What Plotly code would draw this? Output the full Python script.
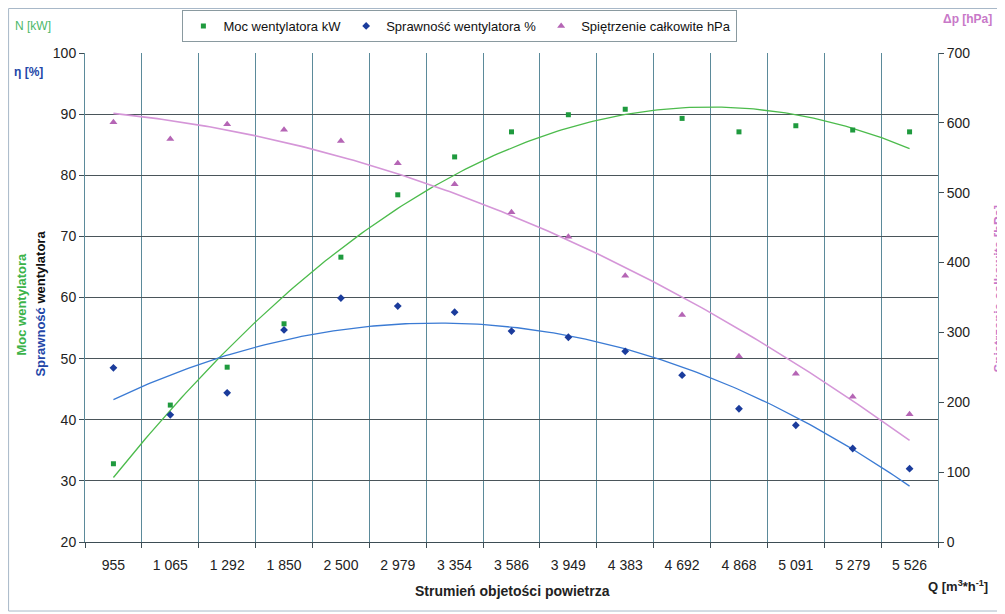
import numpy as np
import plotly.graph_objects as go

categories = ["955", "1 065", "1 292", "1 850", "2 500", "2 979", "3 354", "3 586",
              "3 949", "4 383", "4 692", "4 868", "5 091", "5 279", "5 526"]
moc_kw = [32.8, 42.4, 48.6, 55.7, 66.6, 76.8, 83.0, 87.1, 89.9, 90.8, 89.3, 87.1, 88.1, 87.4, 87.1]
sprawnosc = [48.5, 40.8, 44.4, 54.7, 59.9, 58.6, 57.6, 54.5, 53.5, 51.2, 47.3, 41.8, 39.1, 35.3, 32.0]
spietrzenie = [601, 577, 598, 590, 574, 542, 512, 472, 437, 381, 325, 266, 241, 208, 183]

idx = np.arange(1, len(categories) + 1)
xf = np.linspace(1, len(categories), 200)

def trend(vals, deg=2):
    c = np.polyfit(idx, vals, deg)
    return np.polyval(c, xf)

FONT = "Liberation Sans, Arial, sans-serif"
G_M, G_L = "#1f9a3e", "#4cbb4c"
B_M, B_L = "#1b3c9c", "#3b7bd4"
P_M, P_L = "#b565b5", "#d596d8"

fig = go.Figure()
fig.add_trace(go.Scatter(x=xf, y=trend(moc_kw), mode="lines", line=dict(color=G_L, width=1.3),
                         showlegend=False, hoverinfo="skip"))
fig.add_trace(go.Scatter(x=xf, y=trend(sprawnosc), mode="lines", line=dict(color=B_L, width=1.3),
                         showlegend=False, hoverinfo="skip"))
fig.add_trace(go.Scatter(x=xf, y=trend(spietrzenie), mode="lines", line=dict(color=P_L, width=1.6),
                         showlegend=False, hoverinfo="skip", yaxis="y2"))

fig.add_trace(go.Scatter(x=idx, y=moc_kw, mode="markers", name="Moc wentylatora kW",
                         marker=dict(symbol="square", size=5, color=G_M)))
fig.add_trace(go.Scatter(x=idx, y=sprawnosc, mode="markers", name="Sprawność wentylatora %",
                         marker=dict(symbol="diamond", size=6, color=B_M)))
fig.add_trace(go.Scatter(x=idx, y=spietrzenie, mode="markers", name="Spiętrzenie całkowite hPa",
                         marker=dict(symbol="triangle-up", size=7, color=P_M), yaxis="y2"))

# the page places the figure 8px from the top-left corner of the window
OFF = 8
W, H = 1005, 614
L = 84.5 - OFF
T = 53 - OFF
R = W - (938.5 - OFF)
B = H - (542 - OFF)
pw, ph = W - L - R, H - T - B

def px(x):
    return (x - OFF - L) / pw

def py(y):
    return (H - B - (y - OFF)) / ph

fig.update_layout(
    width=W, height=H,
    margin=dict(l=L, r=R, t=T, b=B, autoexpand=False),
    paper_bgcolor="white", plot_bgcolor="white",
    font=dict(family=FONT, size=14, color="#222222"),
    xaxis=dict(
        range=[0.5, len(categories) + 0.5],
        tickmode="array", tickvals=list(idx), ticktext=categories,
        ticks="", showgrid=False, zeroline=False,
        showline=True, linecolor="#3d4d55", linewidth=1,
        ticklabelstandoff=10,
        minor=dict(tickmode="array", tickvals=list(np.arange(0.5, len(categories) + 1, 1.0)),
                   ticks="outside", ticklen=5, tickcolor="#3d4d55",
                   showgrid=True, gridcolor="#5b8a9a", gridwidth=1),
    ),
    yaxis=dict(
        range=[20, 100], dtick=10, ticks="outside", ticklen=5, tickcolor="#3d4d55",
        showgrid=True, gridcolor="#4a555a", gridwidth=1, zeroline=False,
        showline=True, linecolor="#5b8a9a", linewidth=1,
    ),
    yaxis2=dict(
        range=[0, 700], dtick=100, overlaying="y", side="right",
        ticks="outside", ticklen=5, tickcolor="#3d4d55",
        showgrid=False, zeroline=False,
        showline=True, linecolor="#5b8a9a", linewidth=1,
    ),
    legend=dict(
        orientation="h", x=px(182), y=py(10), xanchor="left", yanchor="top",
        bordercolor="#8a9aa0", borderwidth=1, bgcolor="white",
        font=dict(size=13, color="#111111"), itemwidth=30,
    ),
    showlegend=True,
)

ann = [
    dict(text="N [kW]", x=px(32), y=py(26), font=dict(size=12, color="#4cb86a")),
    dict(text="<b>η [%]</b>", x=px(28), y=py(72), font=dict(size=12, color="#2346a8")),
    dict(text="<b>Δp [hPa]</b>", x=px(968), y=py(19), font=dict(size=12, color="#c878c8")),
    dict(text="<b>Moc wentylatora</b>", x=px(20), y=py(304), textangle=-90,
         font=dict(size=13, color="#3cb34a")),
    dict(text="<b><span style='color:#2346a8'>Sprawność</span> wentylatora</b>", x=px(39), y=py(304),
         textangle=-90, font=dict(size=13, color="#111111")),
    dict(text="<b>Spiętrzenie całkowite [hPa]</b>", x=px(999), y=py(288), textangle=-90,
         font=dict(size=13, color="#c878c8")),
    dict(text="<b>Strumień objetości powietrza</b>", x=px(513), y=py(591),
         font=dict(size=14, color="#222222")),
    dict(text="<b>Q [m<sup>3</sup>*h<sup>-1</sup>]</b>", x=px(959), y=py(586),
         font=dict(size=13, color="#222222")),
]
for a in ann:
    a.update(xref="paper", yref="paper", showarrow=False, xanchor="center", yanchor="middle")
fig.update_layout(annotations=ann)

fig.add_shape(type="rect", xref="paper", yref="paper",
              x0=px(8), x1=px(1012), y0=py(8.5), y1=py(611),
              line=dict(color="#a8b8c8", width=1), fillcolor="rgba(0,0,0,0)", layer="below")

fig.write_html("out.html")
